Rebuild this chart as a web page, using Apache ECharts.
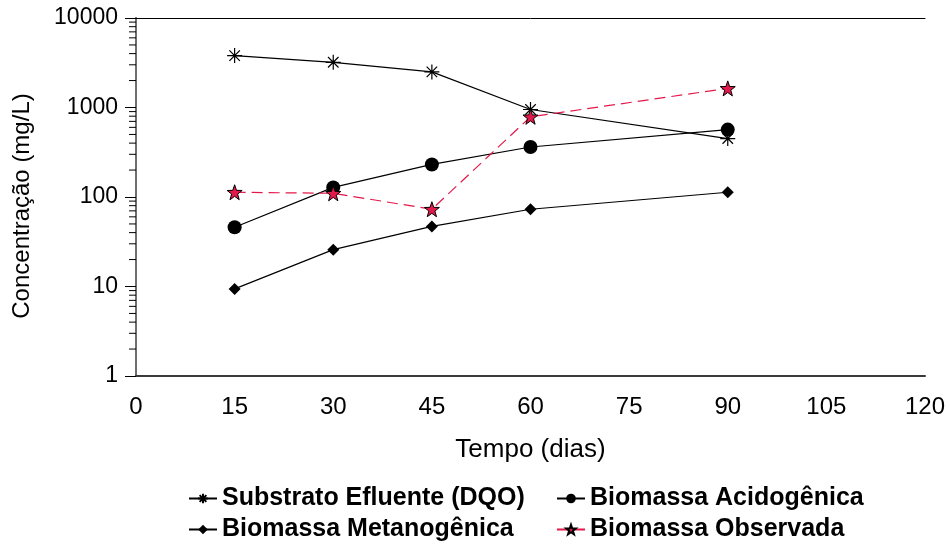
<!DOCTYPE html>
<html>
<head>
<meta charset="utf-8">
<script src="https://cdn.jsdelivr.net/npm/echarts@6/dist/echarts.min.js"></script>
<style>
  html, body { margin: 0; padding: 0; background: #fff; }
  #chart { width: 951px; height: 551px; }
</style>
</head>
<body>
<div id="chart"></div>
<script>
// Sampling days
const days = [15, 30, 45, 60, 90];

// Concentrations (mg/L)
const substratoEfluente = [3800, 3200, 2500, 950, 450];
const biomassaAcidogenica = [46, 128, 231, 362, 566];
const biomassaMetanogenica = [9.4, 25.8, 46.9, 73, 113];
const biomassaObservada = [113, 110, 73, 787, 1635];

// Axis ranges
const xTicks = { min: 0, max: 120, step: 15 };
const yRange = { min: 1, max: 10000 };

// Minor tick positions on the log axis (2..9 within each decade)
const minorMultipliers = [2, 3, 4, 5, 6, 7, 8, 9];
const decades = [1, 10, 100, 1000];

const FONT = '"Liberation Sans", Arial, sans-serif';
const RED = '#e3194b';

const asteriskPath = 'path://M0,-10L0,10M-10,0L10,0M-7,-7L7,7M-7,7L7,-7';
const starPath = 'path://M0,-10L2.35,-3.24L9.51,-3.09L3.8,1.24L5.88,8.09L0,4L-5.88,8.09L-3.8,1.24L-9.51,-3.09L-2.35,-3.24Z';

const pairs = arr => days.map((d, i) => [d, arr[i]]);

const minorTicks = [];
decades.forEach(d => minorMultipliers.forEach(m => minorTicks.push([0, d * m])));

const chart = echarts.init(document.getElementById('chart'));

function legendAt(name, left, top) {
  return {
    data: [name],
    left: left,
    top: top,
    itemWidth: 28,
    itemHeight: 12,
    textStyle: { fontFamily: FONT, fontSize: 25, fontWeight: 'bold', color: '#000' },
    selectedMode: false
  };
}

chart.setOption({
  animation: false,
  backgroundColor: '#fff',
  grid: { left: 136, right: 26, top: 18, bottom: 175 },
  legend: [
    legendAt('Substrato Efluente (DQO)', 183, 481),
    legendAt('Biomassa Acidogênica', 551, 481),
    legendAt('Biomassa Metanogênica', 183, 512),
    legendAt('Biomassa Observada', 551, 512)
  ],
  xAxis: [{
    type: 'value',
    min: xTicks.min,
    max: xTicks.max,
    interval: xTicks.step,
    name: 'Tempo (dias)',
    nameLocation: 'middle',
    nameGap: 61,
    nameTextStyle: { fontFamily: FONT, fontSize: 26, color: '#000' },
    axisLine: { lineStyle: { color: '#3a3a3a', width: 2 } },
    axisTick: { show: false },
    axisLabel: { fontFamily: FONT, fontSize: 24, color: '#000', margin: 19 },
    splitLine: { show: false }
  }, {
    type: 'value',
    position: 'top',
    min: xTicks.min,
    max: xTicks.max,
    axisLine: { show: true, lineStyle: { color: '#000', width: 1 } },
    axisTick: { show: false },
    axisLabel: { show: false },
    splitLine: { show: false }
  }],
  yAxis: [{
    type: 'log',
    logBase: 10,
    min: yRange.min,
    max: yRange.max,
    name: 'Concentração (mg/L)',
    nameLocation: 'middle',
    nameGap: 102,
    nameTextStyle: { fontFamily: FONT, fontSize: 24, color: '#000', padding: [0, 18, 0, 0] },
    axisLine: { show: true, lineStyle: { color: '#000', width: 1.5 } },
    axisTick: { show: true, inside: false, length: 11, lineStyle: { color: '#000', width: 1 } },
    axisLabel: {
      fontFamily: FONT, fontSize: 23, color: '#000', margin: 18,
      formatter: v => String(Math.round(v))
    },
    splitLine: { show: false }
  }, {
    type: 'log',
    logBase: 10,
    position: 'right',
    min: yRange.min,
    max: yRange.max,
    axisLine: { show: true, lineStyle: { color: '#6e6e6e', width: 2 } },
    axisTick: { show: false },
    axisLabel: { show: false },
    splitLine: { show: false }
  }],
  series: [
    {
      name: 'minor',
      type: 'custom',
      silent: true,
      clip: false,
      legendHoverLink: false,
      data: minorTicks,
      renderItem: function (params, api) {
        const p = api.coord([api.value(0), api.value(1)]);
        return {
          type: 'line',
          shape: { x1: p[0] - 7, y1: p[1], x2: p[0], y2: p[1] },
          style: { stroke: '#000', lineWidth: 1 }
        };
      },
      z: 1
    },
    {
      name: 'Substrato Efluente (DQO)',
      type: 'line',
      data: pairs(substratoEfluente),
      symbol: asteriskPath,
      symbolSize: 15,
      color: '#000',
      lineStyle: { color: '#000', width: 1.2 },
      itemStyle: { color: 'none', borderColor: '#000', borderWidth: 1.2 },
      z: 3
    },
    {
      name: 'Biomassa Acidogênica',
      type: 'line',
      data: pairs(biomassaAcidogenica),
      symbol: 'circle',
      symbolSize: 14,
      color: '#000',
      lineStyle: { color: '#000', width: 1.2 },
      itemStyle: { color: '#000' },
      z: 3
    },
    {
      name: 'Biomassa Metanogênica',
      type: 'line',
      data: pairs(biomassaMetanogenica),
      symbol: 'diamond',
      symbolSize: 12,
      color: '#000',
      lineStyle: { color: '#000', width: 1.2 },
      itemStyle: { color: '#000' },
      z: 3
    },
    {
      name: 'Biomassa Observada',
      type: 'line',
      data: pairs(biomassaObservada),
      symbol: starPath,
      symbolSize: 15,
      color: RED,
      lineStyle: { color: RED, width: 1.2, type: [11, 6] },
      itemStyle: { color: RED, borderColor: '#000', borderWidth: 1 },
      z: 4
    }
  ]
});
</script>
</body>
</html>
